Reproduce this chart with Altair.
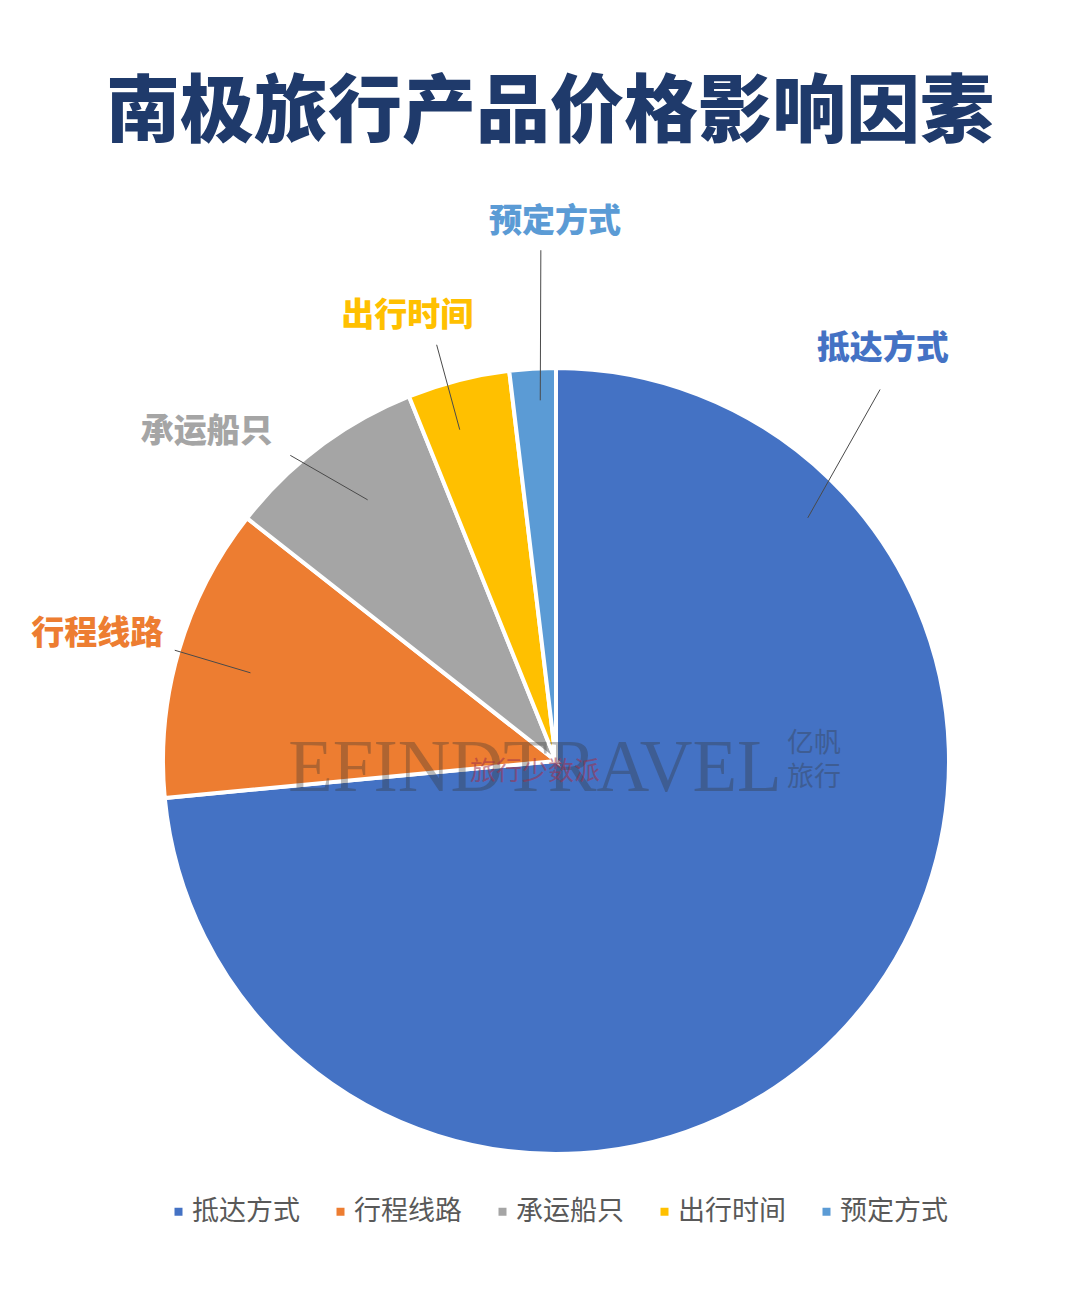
import math
import altair as alt
import pandas as pd

# ---- data ----
title_text = "南极旅行产品价格影响因素"
categories = ["抵达方式", "行程线路", "承运船只", "出行时间", "预定方式"]
shares = [73.5, 12.1, 8.3, 4.2, 1.9]
colors = ["#4472C4", "#ED7D31", "#A5A5A5", "#FFC000", "#5B9BD5"]

# ---- layout (annotation placement, polar around pie centre) ----
W, H = 1064, 1287
CX, CY, R = 548, 753, 393
label_theta = [38.4, 285.5, 313.3, 341.5, 359.9]
label_r = [526, 476, 480, 469, 539]
line_out_theta = [41.1, 286.2, 319.0, 344.0, 358.3]
line_out_r = [493, 397, 405, 433, 511]
line_in_theta = [46.0, 286.1, 324.2, 343.8, 357.5]
line_in_r = [350, 318, 322, 345, 361]


def px(theta, r):
    return CX + r * math.sin(math.radians(theta))


def py(theta, r):
    return CY - r * math.cos(math.radians(theta))


df = pd.DataFrame({"因素": categories, "占比": shares, "order": list(range(len(categories)))})

ann = pd.DataFrame({
    "因素": categories,
    "lx": [px(t, r) for t, r in zip(label_theta, label_r)],
    "ly": [py(t, r) for t, r in zip(label_theta, label_r)],
    "x1": [px(t, r) for t, r in zip(line_out_theta, line_out_r)],
    "y1": [py(t, r) for t, r in zip(line_out_theta, line_out_r)],
    "x2": [px(t, r) for t, r in zip(line_in_theta, line_in_r)],
    "y2": [py(t, r) for t, r in zip(line_in_theta, line_in_r)],
})

xs = alt.Scale(domain=[0, W], nice=False, zero=False)
ys = alt.Scale(domain=[0, H], nice=False, zero=False, reverse=True)
cscale = alt.Scale(domain=categories, range=colors)
FONT = "Noto Sans CJK SC"

pie = alt.Chart(df).mark_arc(outerRadius=R, stroke="white", strokeWidth=4).encode(
    theta=alt.Theta("占比:Q", stack=True),
    color=alt.Color(
        "因素:N",
        scale=cscale,
        legend=alt.Legend(
            title=None,
            orient="none",
            legendX=157,
            legendY=1190,
            direction="horizontal",
            symbolType="square",
            symbolSize=64,
            symbolStrokeWidth=0,
            labelFont=FONT,
            labelFontSize=27,
            labelColor="#595959",
            labelOffset=0,
            columnPadding=27,
            padding=0,
        ),
    ),
    order=alt.Order("order:Q"),
    x=alt.value(CX),
    y=alt.value(CY),
)

lines = alt.Chart(ann).mark_rule(color="#4a4a4a", strokeWidth=1).encode(
    x=alt.X("x1:Q", scale=xs, axis=None),
    y=alt.Y("y1:Q", scale=ys, axis=None),
    x2="x2:Q",
    y2="y2:Q",
)

wm = alt.Chart(pd.DataFrame({"t": ["EFINDTRAVEL"]})).mark_text(
    font="Liberation Serif", fontSize=73, color="#333333", opacity=0.33,
    align="center", baseline="alphabetic"
).encode(text="t:N", x=alt.value(527), y=alt.value(783))

wm2 = alt.Chart(pd.DataFrame({"t": ["旅行少数派"]})).mark_text(
    font=FONT, fontSize=26, color="#a0304a", opacity=0.55,
    align="center", baseline="middle"
).encode(text="t:N", x=alt.value(527), y=alt.value(764))

wm3 = alt.Chart(pd.DataFrame({"t": ["亿帆", "旅行"], "row": [0, 1]})).mark_text(
    font=FONT, fontSize=27, color="#333333", opacity=0.33,
    align="center", baseline="middle"
).encode(
    text="t:N",
    x=alt.value(806),
    y=alt.Y("row:Q", scale=alt.Scale(domain=[0, 1], range=[736, 770]), axis=None),
)

labels = alt.Chart(ann).mark_text(
    font=FONT, fontSize=33, fontWeight=900, align="center", baseline="middle"
).encode(
    x=alt.X("lx:Q", scale=xs, axis=None),
    y=alt.Y("ly:Q", scale=ys, axis=None),
    text="因素:N",
    color=alt.Color("因素:N", scale=cscale, legend=None),
)

title = alt.Chart(pd.DataFrame({"t": [title_text]})).mark_text(
    font=FONT, fontSize=74, fontWeight=900, color="#1F3A6B",
    align="center", baseline="middle"
).encode(text="t:N", x=alt.value(542), y=alt.value(106))

chart = alt.layer(pie, lines, wm, wm2, wm3, labels, title).properties(
    width=W,
    height=H,
    autosize=alt.AutoSizeParams(type="none"),
    padding=0,
    background="white",
).resolve_scale(y="independent").configure_view(stroke=None)

chart.save("out.html", embed_options={"renderer": "svg", "actions": False})
